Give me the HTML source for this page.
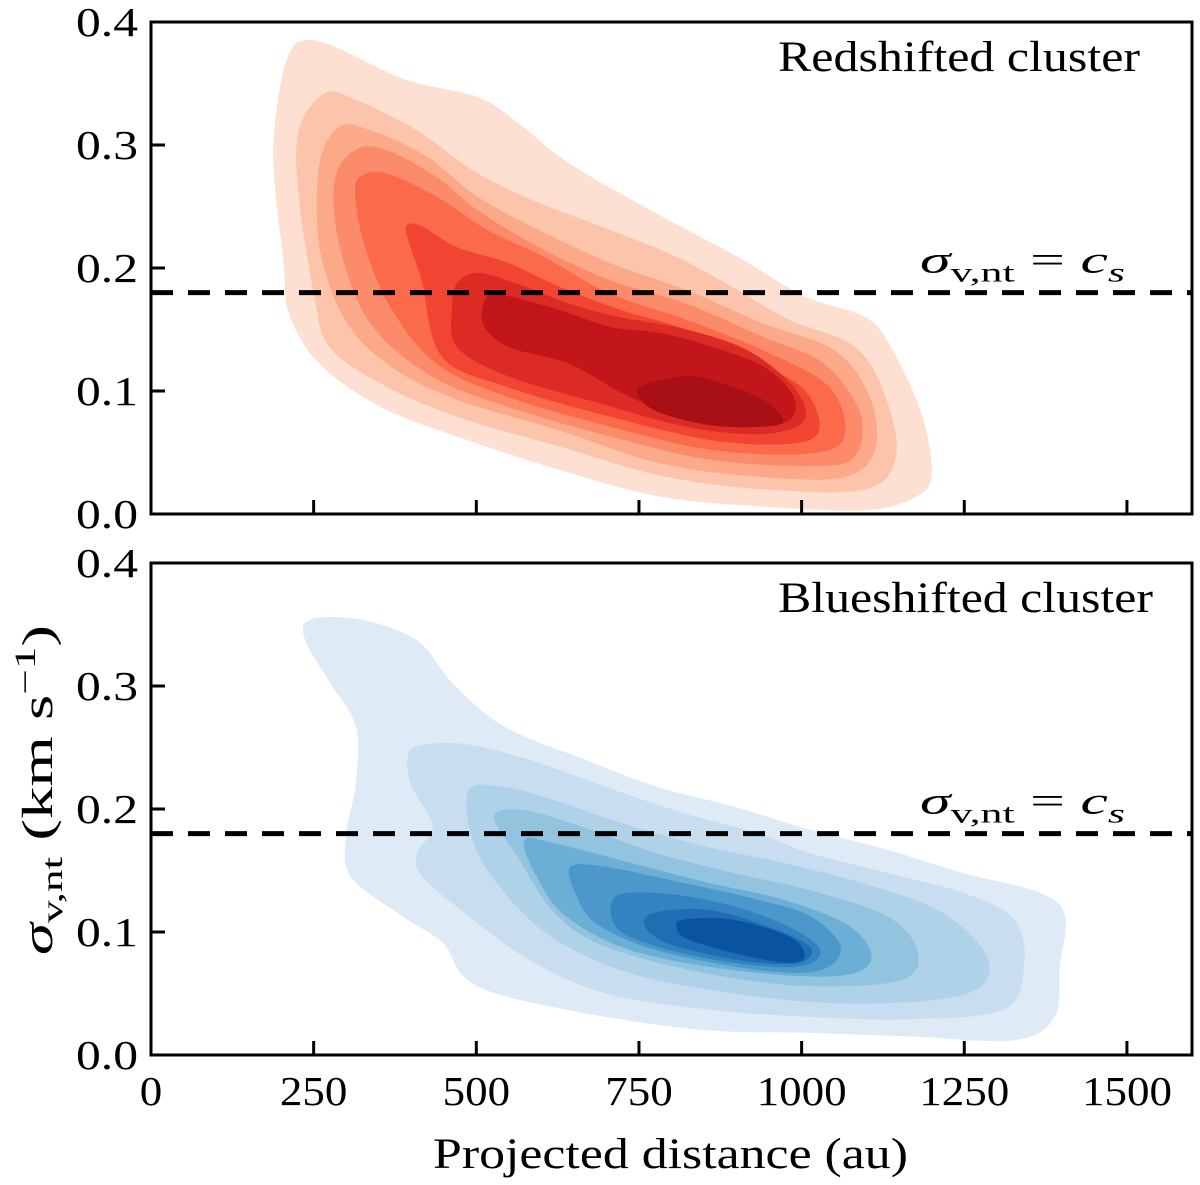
<!DOCTYPE html>
<html><head><meta charset="utf-8"><style>
html,body{margin:0;padding:0;background:#fff;}
svg{display:block;font-family:"Liberation Serif","DejaVu Serif",serif;}
</style></head><body>
<svg id="fig" width="1200" height="1185" viewBox="0 0 1200 1185" xmlns="http://www.w3.org/2000/svg"></svg>
<script>
const xTicks=[0,250,500,750,1000,1250,1500];
const yTicks=[0.0,0.1,0.2,0.3,0.4];
const soundSpeed=0.18;
const redColors=["#fee0d2","#fcc5ab","#fca98a","#fc8b6c","#fb6b4b","#f14432","#dc2a25","#c3161b","#a81016"];
const redLevels=[
[[235,.385],[282,.38],[392,.353],[502,.339],[564,.318],[643,.285],[768,.247],[902,.209],[1004,.177],[1098,.160],[1137,.136],[1184,.082],[1200,.033],[1176,.014],[1098,.003],[941,.006],[784,.014],[627,.036],[470,.063],[353,.087],[259,.122],[212,.163],[204,.204],[188,.285],[196,.339],[212,.374]],
[[267,.342],[314,.337],[408,.312],[502,.277],[596,.253],[706,.231],[808,.209],[902,.182],[980,.158],[1082,.136],[1129,.095],[1145,.047],[1098,.02],[941,.02],[784,.031],[627,.055],[470,.079],[353,.106],[274,.136],[251,.177],[227,.258],[227,.312]],
[[290,.315],[337,.312],[423,.291],[502,.258],[596,.231],[706,.204],[823,.182],[941,.155],[1051,.133],[1105,.095],[1113,.052],[1066,.030],[941,.030],[784,.041],[627,.068],[470,.093],[368,.120],[298,.158],[259,.217],[259,.285]],
[[314,.296],[361,.296],[439,.274],[502,.247],[596,.217],[706,.190],[823,.171],[941,.144],[1035,.122],[1090,.082],[1082,.047],[1020,.039],[862,.044],[706,.063],[549,.087],[431,.112],[337,.155],[290,.217],[282,.271]],
[[321,.274],[361,.277],[439,.258],[517,.231],[604,.209],[706,.179],[823,.158],[941,.133],[1043,.103],[1066,.063],[1011,.049],[862,.052],[706,.071],[549,.095],[439,.122],[368,.168],[329,.217],[314,.258]],
[[392,.234],[416,.234],[470,.217],[549,.204],[627,.185],[721,.166],[823,.150],[925,.125],[1004,.101],[1027,.068],[980,.057],[862,.060],[706,.079],[549,.103],[447,.128],[416,.190],[400,.215]],
[[470,.187],[502,.196],[564,.187],[643,.171],[721,.160],[823,.150],[917,.133],[988,.103],[1004,.076],[941,.065],[823,.071],[690,.090],[549,.112],[470,.136],[463,.169]],
[[517,.177],[549,.177],[627,.166],[706,.152],[784,.147],[862,.136],[941,.120],[988,.095],[972,.074],[862,.074],[745,.093],[643,.122],[549,.136],[510,.155]],
[[753,.104],[823,.112],[878,.106],[941,.093],[972,.076],[941,.071],[862,.072],[784,.082],[753,.093]]
];
const blueColors=["#deebf7","#c9ddf0","#b0d2e8","#93c4df","#6baed6","#4c98ca","#3383c0","#1f6db3","#0b53a0"];
const blueLevels=[
[[245,.354],[323,.354],[409,.337],[464,.302],[543,.267],[668,.24],[778,.218],[895,.202],[1013,.183],[1131,.167],[1248,.148],[1366,.132],[1405,.113],[1397,.072],[1389,.031],[1327,.012],[1170,.015],[1013,.018],[856,.02],[699,.031],[543,.048],[480,.064],[449,.091],[386,.113],[307,.145],[300,.18],[315,.221],[315,.267],[276,.302],[237,.337]],
[[409,.251],[480,.253],[582,.24],[699,.218],[817,.197],[935,.18],[1013,.164],[1131,.148],[1248,.132],[1327,.11],[1342,.072],[1311,.037],[1170,.029],[1013,.031],[856,.037],[699,.05],[582,.077],[488,.113],[417,.145],[409,.164],[433,.186],[401,.218],[394,.24]],
[[488,.215],[543,.218],[621,.207],[739,.186],[856,.169],[974,.156],[1091,.14],[1209,.118],[1280,.085],[1280,.058],[1209,.045],[1052,.042],[895,.05],[739,.066],[621,.094],[543,.132],[496,.172]],
[[527,.194],[574,.199],[660,.186],[778,.164],[895,.148],[1013,.134],[1131,.113],[1178,.085],[1154,.061],[1013,.056],[856,.066],[699,.088],[621,.115],[566,.159]],
[[574,.175],[621,.172],[739,.156],[856,.14],[974,.126],[1076,.104],[1107,.077],[1052,.064],[895,.069],[739,.085],[637,.113],[590,.148]],
[[645,.153],[699,.153],[817,.14],[935,.126],[1013,.113],[1060,.088],[1029,.069],[935,.069],[778,.085],[684,.107],[652,.132]],
[[715,.129],[793,.131],[895,.121],[982,.104],[1029,.085],[997,.072],[895,.075],[778,.088],[715,.104]],
[[770,.115],[856,.118],[950,.104],[1013,.088],[997,.075],[919,.076],[809,.088],[762,.102]],
[[817,.11],[895,.11],[982,.096],[1005,.08],[974,.075],[895,.083],[825,.094],[809,.102]]
];
const NS="http://www.w3.org/2000/svg";
const svg=document.getElementById('fig');
const X0=151,X1=1192,XMAX=1600;
function xs(v){return X0+(X1-X0)*v/XMAX;}
function mk(tag,attrs,parent){const e=document.createElementNS(NS,tag);for(const k in attrs)e.setAttribute(k,attrs[k]);(parent||svg).appendChild(e);return e;}
function smooth(pts){
  const n=pts.length;let d=`M${pts[0][0].toFixed(1)},${pts[0][1].toFixed(1)}`;
  for(let i=0;i<n;i++){
    const p0=pts[(i-1+n)%n],p1=pts[i],p2=pts[(i+1)%n],p3=pts[(i+2)%n];
    const c1=[p1[0]+(p2[0]-p0[0])/6,p1[1]+(p2[1]-p0[1])/6];
    const c2=[p2[0]-(p3[0]-p1[0])/6,p2[1]-(p3[1]-p1[1])/6];
    d+=`C${c1[0].toFixed(1)},${c1[1].toFixed(1)} ${c2[0].toFixed(1)},${c2[1].toFixed(1)} ${p2[0].toFixed(1)},${p2[1].toFixed(1)}`;
  }
  return d+'Z';
}
function panel(top,bottom,levels,colors,title,name,showX){
  const ys=v=>bottom-(bottom-top)*v/0.4;
  const g=mk('g',{});
  
  
  const clip=mk('clipPath',{id:'clip-'+name},g);
  mk('rect',{x:X0,y:top,width:X1-X0,height:bottom-top},clip);
  const cg=mk('g',{'clip-path':'url(#clip-'+name+')'},g);
  levels.forEach((lv,i)=>{
    const p=mk('path',{d:smooth(lv.map(q=>[xs(q[0]),ys(q[1])])),fill:colors[i]},cg);
    
    
  });
  const dl=mk('line',{x1:X0,x2:X1,y1:ys(soundSpeed),y2:ys(soundSpeed),stroke:'#000','stroke-width':5,'stroke-dasharray':'22 15'},g);
  
  
  const lab=mk('text',{x:920,y:ys(soundSpeed)-20,'font-size':38,textLength:205,lengthAdjust:'spacingAndGlyphs'},g);
  
  
  lab.innerHTML='<tspan font-style="italic">σ</tspan><tspan font-size="27" dy="9">v,nt</tspan><tspan dy="-9"> = </tspan><tspan font-style="italic">c</tspan><tspan font-style="italic" font-size="27" dy="9">s</tspan>';
  const isRed=title==='Redshifted cluster';
  const t=mk('text',{x:isRed?778:778,y:top+49,'font-size':43,textLength:isRed?362:375,lengthAdjust:'spacingAndGlyphs'},g);
  t.textContent=title;
  
  
  xTicks.forEach(v=>{
    const tk=mk('line',{x1:xs(v),x2:xs(v),y1:bottom,y2:bottom-14,stroke:'#000','stroke-width':3},g);
    
    
    if(showX){
      const s=String(v);
      const w=s.length*22.5;
      const tl=mk('text',{x:xs(v)-w/2,y:bottom+50,'font-size':41,textLength:w,lengthAdjust:'spacingAndGlyphs'},g);
      tl.textContent=s;
      
      
    }
  });
  yTicks.forEach(v=>{
    const tk=mk('line',{x1:X0,x2:X0+14,y1:ys(v),y2:ys(v),stroke:'#000','stroke-width':3},g);
    
    
    const tl=mk('text',{x:76,y:ys(v)+14,'font-size':41,textLength:62,lengthAdjust:'spacingAndGlyphs'},g);
    tl.textContent=v.toFixed(1);
    
    
  });
  const fr=mk('rect',{x:X0,y:top,width:X1-X0,height:bottom-top,fill:'none',stroke:'#000','stroke-width':3},g);
  
  
}
panel(22,514,redLevels,redColors,'Redshifted cluster','redshifted',false);
panel(563,1055,blueLevels,blueColors,'Blueshifted cluster','blueshifted',true);
const xl=mk('text',{x:433,y:1168,'font-size':43,textLength:475,lengthAdjust:'spacingAndGlyphs'});
xl.textContent='Projected distance (au)';


const yl=mk('text',{x:0,y:0,'font-size':43,textLength:330,lengthAdjust:'spacingAndGlyphs',transform:'translate(52,955) rotate(-90)'});
yl.innerHTML='<tspan font-style="italic">σ</tspan><tspan font-size="30" dy="10">v,nt</tspan><tspan dy="-10"> (km s</tspan><tspan font-size="30" dy="-17">−1</tspan><tspan dy="17">)</tspan>';


</script>
</body></html>
